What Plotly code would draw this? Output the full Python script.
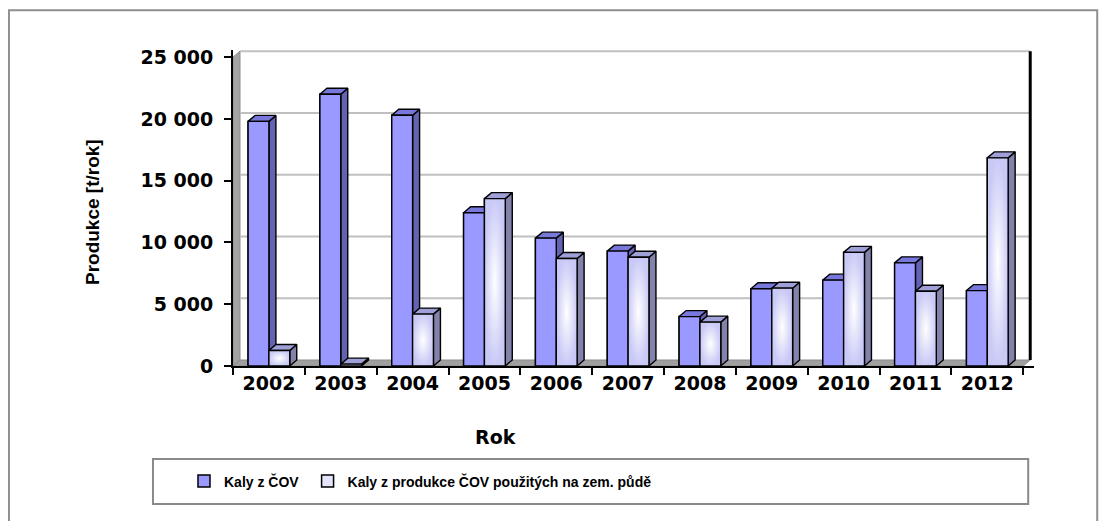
import plotly.graph_objects as go

# ---------------- data ----------------
years = ["2002", "2003", "2004", "2005", "2006", "2007", "2008", "2009", "2010", "2011", "2012"]
kaly_cov = [19800, 22000, 20300, 12400, 10350, 9300, 4000, 6250, 6950, 8350, 6100]
kaly_puda = [1250, 150, 4200, 13550, 8700, 8800, 3550, 6300, 9200, 6050, 16850]
y_ticks = [0, 5000, 10000, 15000, 20000, 25000]
series_names = ["Kaly z ČOV\u00a0", "Kaly z produkce ČOV použitých na zem. půdě"]

# ---------------- geometry ----------------
OFF = 8                      # page body margin offset
W, H = 1107, 521
L = 233 - OFF
PX_PER_CAT = 71.82
X0, X1 = -0.5, 10.65
PW = (X1 - X0) * PX_PER_CAT
R = W - L - PW
Y_BOTTOM_PX = 366 - OFF
PX_PER_UNIT = 309 / 25000
Y1 = 25580
PH = Y1 * PX_PER_UNIT
T = Y_BOTTOM_PX - PH
B = H - Y_BOTTOM_PX
DX = 7 / PX_PER_CAT          # depth offset (x, data units)
DY = 6 / PX_PER_UNIT         # depth offset (y, data units)
BW = 0.29                    # bar width


def pxx(px):
    return (px - OFF - L) / PW


def pxy(py):
    return (T + PH - (py - OFF)) / PH


xs = list(range(len(years)))

# colours
BLUE_FRONT, BLUE_TOP, BLUE_SIDE = "#9999ff", "#7878dc", "#6363b2"
WHITE_EDGE, WHITE_TOP, WHITE_SIDE = "#c9c9f6", "#a0a0d8", "#8282aa"
EDGE = "black"


def box_faces(xl, xr, v):
    front = ([xl, xr, xr, xl, xl], [0, 0, v, v, 0])
    top = ([xl, xr, xr + DX, xl + DX, xl], [v, v, v + DY, v + DY, v])
    side = ([xr, xr + DX, xr + DX, xr, xr], [0, DY, v + DY, v, 0])
    return front, top, side


def combine(polys):
    X, Y = [], []
    for px_, py_ in polys:
        X += px_ + [None]
        Y += py_ + [None]
    return X, Y


fig = go.Figure()

# legend / base bars (fully repainted by faces below)
fig.add_trace(go.Bar(x=xs, y=kaly_cov, name=series_names[0], width=BW, offset=-BW,
                     marker=dict(color=BLUE_FRONT, line=dict(color=EDGE, width=1.5))))
fig.add_trace(go.Bar(x=xs, y=kaly_puda, name=series_names[1], width=BW, offset=0,
                     marker=dict(color="#e4e4fc", line=dict(color=EDGE, width=1.5))))

blue = [box_faces(x - BW, x, v) for x, v in zip(xs, kaly_cov)]
white = [box_faces(x, x + BW, v) for x, v in zip(xs, kaly_puda)]


def poly_trace(polys, color):
    X, Y = combine(polys)
    return go.Scatter(x=X, y=Y, mode="lines", fill="toself", fillcolor=color,
                      line=dict(color=EDGE, width=1.4), showlegend=False, hoverinfo="skip")


fig.add_trace(poly_trace([f[2] for f in blue], BLUE_SIDE))
fig.add_trace(poly_trace([f[1] for f in blue], BLUE_TOP))
fig.add_trace(poly_trace([f[0] for f in blue], BLUE_FRONT))
fig.add_trace(poly_trace([f[2] for f in white], WHITE_SIDE))
fig.add_trace(poly_trace([f[1] for f in white], WHITE_TOP))
for f in white:
    fx, fy = f[0]
    fig.add_trace(go.Scatter(x=fx, y=fy, mode="lines", fill="toself",
                             fillgradient=dict(type="radial",
                                               colorscale=[[0, "#ffffff"], [1, WHITE_EDGE]]),
                             line=dict(color=EDGE, width=1.4), showlegend=False, hoverinfo="skip"))

# ---------------- 3D walls / floor / back gridlines ----------------
shapes = []
xl_w, xr_w = X0, len(years) - 0.5
# left wall
shapes.append(dict(type="path", xref="x", yref="y", layer="below",
                   path=f"M{xl_w},0 L{xl_w},{y_ticks[-1]} L{xl_w + DX},{y_ticks[-1] + DY} L{xl_w + DX},{DY} Z",
                   fillcolor="#a3a3a3", line=dict(color="#8a8a8a", width=1)))
# floor
shapes.append(dict(type="path", xref="x", yref="y", layer="below",
                   path=f"M{xl_w},0 L{xr_w},0 L{xr_w + DX},{DY} L{xl_w + DX},{DY} Z",
                   fillcolor="#a0a0a0", line=dict(color="#8a8a8a", width=1)))
# back wall gridlines
for v in y_ticks[1:]:
    shapes.append(dict(type="line", xref="x", yref="y", layer="below",
                       x0=xl_w + DX, x1=xr_w + DX, y0=v + DY, y1=v + DY,
                       line=dict(color="#c0c0c0", width=2)))
# right back edge
shapes.append(dict(type="line", xref="x", yref="y", layer="below",
                   x0=xr_w + DX, x1=xr_w + DX, y0=DY, y1=y_ticks[-1] + DY,
                   line=dict(color="black", width=3)))
# outer chart border
shapes.append(dict(type="rect", xref="paper", yref="paper",
                   x0=pxx(9), x1=pxx(1097), y0=pxy(540), y1=pxy(10),
                   line=dict(color="#8f8f8f", width=2), fillcolor="rgba(0,0,0,0)"))
# legend box
shapes.append(dict(type="rect", xref="paper", yref="paper",
                   x0=pxx(153), x1=pxx(1028), y0=pxy(504), y1=pxy(459),
                   line=dict(color="#8a8a8a", width=2), fillcolor="rgba(0,0,0,0)"))

tick_font = dict(family="DejaVu Sans", size=19, color="black", weight="bold")

fig.update_layout(
    width=W, height=H,
    margin=dict(l=L, r=R, t=T, b=B, pad=0, autoexpand=False),
    paper_bgcolor="white", plot_bgcolor="white",
    separators=", ",
    barmode="overlay",
    shapes=shapes,
    showlegend=True,
    legend=dict(orientation="h", x=pxx(184), xanchor="left", y=pxy(481.5), yanchor="middle",
                bgcolor="rgba(0,0,0,0)", borderwidth=0,
                font=dict(family="Liberation Sans", size=14, color="black", weight="bold")),
    xaxis=dict(range=[X0, X1], tickmode="array", tickvals=xs, ticktext=years,
               ticks="", showgrid=False, zeroline=False, showline=True,
               linecolor="black", linewidth=2, tickfont=tick_font, ticklabelstandoff=-1,
               automargin=False,
               minor=dict(tickmode="array", tickvals=[x - 0.5 for x in xs] + [xs[-1] + 0.5],
                          ticks="outside", ticklen=7, tickwidth=1.5, tickcolor="black",
                          showgrid=False)),
    yaxis=dict(range=[0, Y1], tickmode="array", tickvals=y_ticks, tickformat=",d",
               ticks="outside", ticklen=7, tickwidth=1.5, tickcolor="black",
               showgrid=False, zeroline=False, showline=True, linecolor="black", linewidth=2,
               tickfont=tick_font, ticklabelstandoff=7, automargin=False),
    annotations=[
        dict(text="Rok", xref="paper", yref="paper", x=pxx(495), y=pxy(437),
             xanchor="center", yanchor="middle", showarrow=False,
             font=dict(family="DejaVu Sans", size=19, color="black", weight="bold")),
        dict(text="Produkce [t/rok]", xref="paper", yref="paper", x=pxx(92), y=pxy(212),
             xanchor="center", yanchor="middle", showarrow=False, textangle=-90,
             font=dict(family="Liberation Sans", size=19, color="black", weight="bold")),
    ],
)

fig.write_html("out.html")
